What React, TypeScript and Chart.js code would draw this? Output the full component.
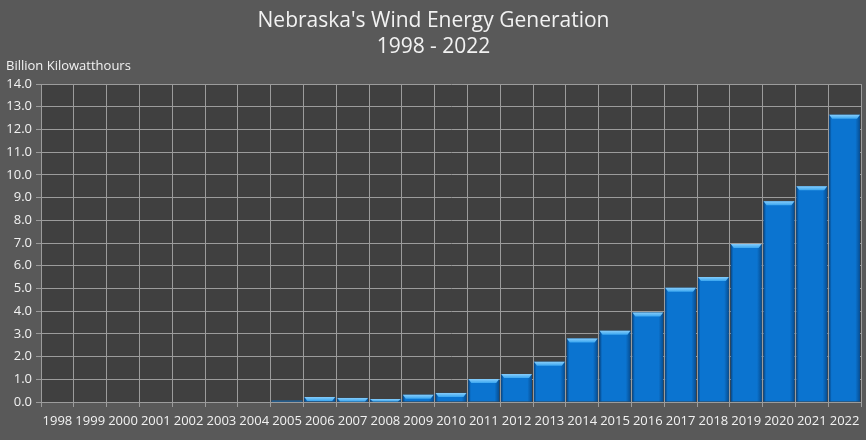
import React, { useEffect, useRef } from "react";
import { Chart, registerables } from "chart.js";

Chart.register(...registerables);

const years = [
  "1998", "1999", "2000", "2001", "2002", "2003", "2004", "2005", "2006", "2007",
  "2008", "2009", "2010", "2011", "2012", "2013", "2014", "2015", "2016", "2017",
  "2018", "2019", "2020", "2021", "2022",
];
const generation = [
  0, 0, 0, 0, 0, 0, 0, 0.06, 0.22, 0.18,
  0.13, 0.32, 0.4, 1.01, 1.23, 1.77, 2.8, 3.14, 3.94, 5.03,
  5.51, 6.96, 8.84, 9.5, 12.65,
];
const titleLines = ["Nebraska's Wind Energy Generation", "1998 - 2022"];
const unitLabel = "Billion Kilowatthours";

const FONT = "'Open Sans', 'DejaVu Sans', sans-serif";
const TEXT = "#f2f2f2";
const GRID = "#9c9c9c";

const backgroundPlugin = {
  id: "bgPlugin",
  beforeDraw(chart: any) {
    const { ctx, chartArea } = chart;
    ctx.save();
    ctx.fillStyle = "#595959";
    ctx.fillRect(0, 0, chart.width, chart.height);
    ctx.fillStyle = "#404040";
    ctx.fillRect(chartArea.left, chartArea.top, chartArea.right - chartArea.left, chartArea.bottom - chartArea.top);
    ctx.restore();
  },
};

const bevelPlugin = {
  id: "bevelPlugin",
  afterDatasetsDraw(chart: any) {
    const { ctx } = chart;
    const meta = chart.getDatasetMeta(0);
    ctx.save();
    meta.data.forEach((bar: any) => {
      const { x, y, base, width } = bar.getProps(["x", "y", "base", "width"], true);
      const h = base - y;
      if (h < 1) return;
      const l = x - width / 2;
      const r = x + width / 2;
      const g = ctx.createLinearGradient(l, 0, r, 0);
      g.addColorStop(0, "rgba(0,30,70,0.55)");
      g.addColorStop(0.08, "rgba(0,30,70,0.0)");
      g.addColorStop(0.85, "rgba(0,30,70,0.0)");
      g.addColorStop(1, "rgba(0,30,70,0.45)");
      ctx.fillStyle = g;
      ctx.fillRect(l, y, width, h);
      const bh = Math.min(4, h);
      ctx.beginPath();
      ctx.moveTo(l, y);
      ctx.lineTo(r, y);
      ctx.lineTo(r - 3, y + bh);
      ctx.lineTo(l + 3, y + bh);
      ctx.closePath();
      const tg = ctx.createLinearGradient(0, y, 0, y + bh);
      tg.addColorStop(0, "#86cdfb");
      tg.addColorStop(1, "#3aa6f0");
      ctx.fillStyle = tg;
      ctx.fill();
    });
    ctx.restore();
  },
};

export default function App() {
  const canvasRef = useRef<HTMLCanvasElement | null>(null);

  useEffect(() => {
    if (!canvasRef.current) return;
    const chart = new Chart(canvasRef.current, {
      type: "bar",
      data: {
        labels: years,
        datasets: [
          {
            data: generation,
            backgroundColor: "#0b74d0",
            borderWidth: 0,
            categoryPercentage: 1,
            barPercentage: 0.94,
          },
        ],
      },
      options: {
        animation: false,
        responsive: false,
        maintainAspectRatio: false,
        layout: { padding: { left: 6, right: 5, top: 0, bottom: 0 } },
        plugins: {
          legend: { display: false },
          tooltip: { enabled: false },
          title: {
            display: true,
            text: titleLines,
            color: TEXT,
            font: { family: FONT, size: 21, weight: "normal", lineHeight: 1.24 },
            padding: { top: 8, bottom: 0 },
          },
          subtitle: {
            display: true,
            text: unitLabel,
            align: "start",
            color: TEXT,
            font: { family: FONT, size: 13, weight: "normal", lineHeight: 1 },
            padding: { top: 0, bottom: 11 },
          },
        },
        scales: {
          x: {
            grid: { color: GRID, lineWidth: 1, tickLength: 5, offset: true },
            border: { color: GRID },
            ticks: { color: TEXT, font: { family: FONT, size: 13 }, maxRotation: 0, autoSkip: false, padding: 6 },
            afterFit(scale: any) {
              scale.height = 38;
            },
          },
          y: {
            min: 0,
            max: 14,
            grid: { color: GRID, lineWidth: 1, tickLength: 5 },
            border: { color: GRID },
            ticks: {
              stepSize: 1,
              color: TEXT,
              font: { family: FONT, size: 13 },
              padding: 4,
              callback: (v: any) => Number(v).toFixed(1),
            },
            afterFit(scale: any) {
              scale.width = 35;
            },
          },
        },
      },
      plugins: [backgroundPlugin, bevelPlugin],
    } as any);
    return () => chart.destroy();
  }, []);

  return (
    <div style={{ position: "fixed", left: 0, top: 0, width: 866, height: 440 }}>
      <canvas ref={canvasRef} width={866} height={440} style={{ display: "block" }} />
    </div>
  );
}
